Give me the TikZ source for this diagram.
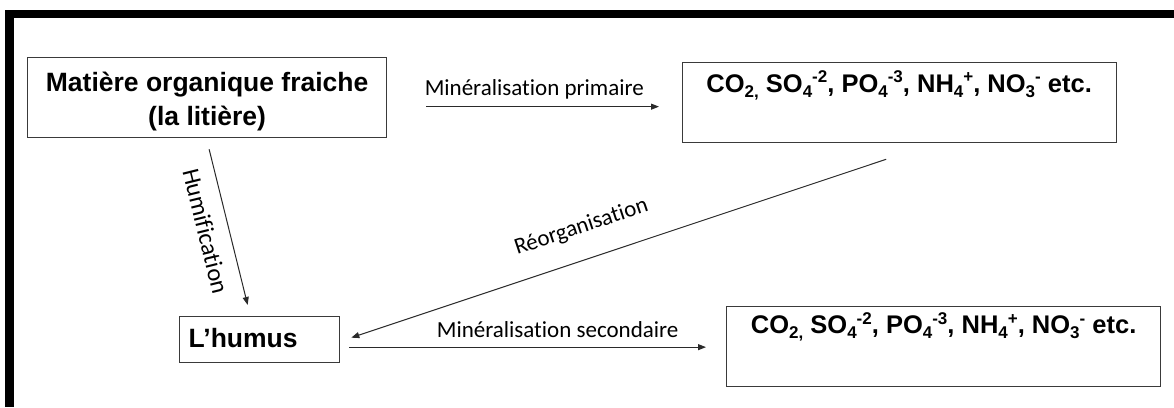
\documentclass[tikz,border=0pt]{standalone}
\usepackage{fontspec}
\setmainfont{Liberation Sans}
\newfontfamily\labfont[Ligatures=NoCommon]{Carlito}
\usetikzlibrary{arrows.meta}
\definecolor{boxgray}{HTML}{3A3A3A}
\definecolor{linegray}{HTML}{2A2A2A}
\newcommand\sbsc[1]{\raisebox{-0.2em}{\fontsize{17}{17}\selectfont #1}}
\newcommand\spsc[1]{\raisebox{0.36em}{\fontsize{17}{17}\selectfont #1}}
\begin{document}
\begin{tikzpicture}[x=1pt,y=-1pt,
  box/.style={draw=boxgray, line width=1.3pt, inner sep=0pt, font=\bfseries\fontsize{26.5}{34}\selectfont},
  chem/.style={box, font=\bfseries\fontsize{25.5}{30}\selectfont, minimum width=434pt},
  arr/.style={draw=linegray, line width=1pt, -{Triangle[length=8pt,width=6pt]}},
  lab/.style={font=\labfont\fontsize{23}{27}\selectfont, inner sep=0pt, text=black}]
\useasboundingbox (0,0) rectangle (1174,407);
% frame
\fill (5,10) rectangle (1174,18);
\fill (5,10) rectangle (14,407);
% boxes
\node[box, anchor=north west, minimum width=359pt, text height=68pt, text depth=12pt, align=center] (b1) at (27,57) {Matière organique fraiche\\(la litière)};
\node[box, anchor=north west, text width=142pt, inner xsep=9pt, text height=31pt, text depth=15pt, align=left] (hu) at (179,316) {L’humus};
\node[chem, anchor=north west, text height=29.5pt, text depth=50.5pt] (b2) at (681.5,62) {CO\sbsc{2,} SO\sbsc{4}\spsc{-2}, PO\sbsc{4}\spsc{-3}, NH\sbsc{4}\spsc{+}, NO\sbsc{3}\spsc{-} etc.};
\node[chem, anchor=north west, text height=27pt, text depth=53pt] (b3) at (726,306) {CO\sbsc{2,} SO\sbsc{4}\spsc{-2}, PO\sbsc{4}\spsc{-3}, NH\sbsc{4}\spsc{+}, NO\sbsc{3}\spsc{-} etc.};
% connectors
\draw[arr] ([shift={(39,9)}]b1.east) -- node[lab, pos=.464, anchor=base, yshift=11pt]{Minéralisation primaire} ([shift={(-22.5,4)}]b2.west);
\draw[arr] ([shift={(2,11)}]b1.south) -- node[lab, font=\labfont\fontsize{24.5}{28}\selectfont, sloped, pos=.49, anchor=north, inner ysep=14pt]{Humification} ([shift={(-12,-11)}]hu.north);
\draw[arr] ([shift={(-13,16)}]b2.south) -- node[lab, sloped, pos=.551, anchor=south, inner ysep=21.5pt]{Réorganisation} ([shift={(11,-2)}]hu.east);
\draw[arr] ([shift={(9,7.5)}]hu.east) -- node[lab, pos=.584, anchor=base, yshift=9.5pt]{Minéralisation secondaire} ([shift={(-20,0.5)}]b3.west);
\end{tikzpicture}
\end{document}
